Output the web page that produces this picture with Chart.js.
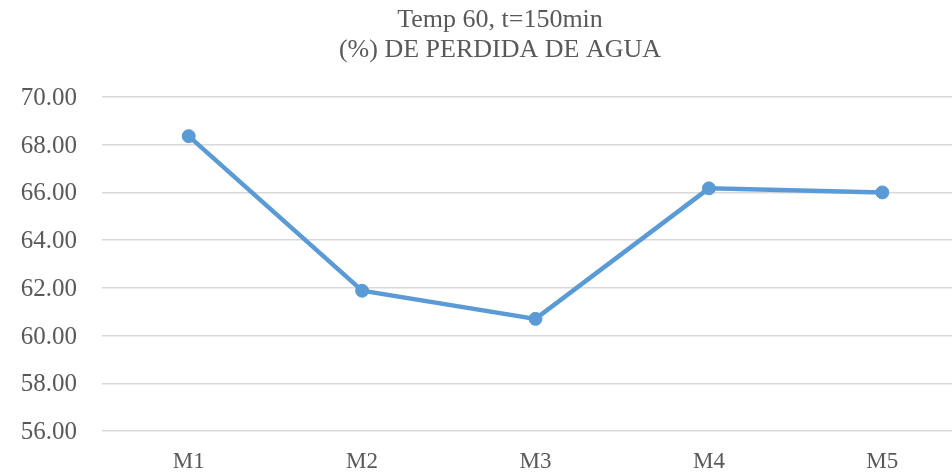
<!DOCTYPE html>
<html>
<head>
<meta charset="utf-8">
<script src="https://cdn.jsdelivr.net/npm/chart.js@4.4.1/dist/chart.umd.min.js"></script>
<style>
html,body{margin:0;padding:0;background:#fff;overflow:hidden;width:952px;height:476px;}
#wrap{position:relative;width:980px;height:476px;}
</style>
</head>
<body>
<div id="wrap"><canvas id="c"></canvas></div>
<script>
const categories = ["M1", "M2", "M3", "M4", "M5"];
const perdidaAgua = [68.36, 61.88, 60.70, 66.17, 66.00];
const titleLines = ["Temp 60, t=150min", "(%) DE PERDIDA DE AGUA"];
const yMin = 56, yMax = 70, yStep = 2;

const FONT = '"Liberation Serif", "Times New Roman", serif';
const TEXT = '#595959';

// Title drawn as canvas text, centred where the original chart centres it
const titlePlugin = {
  id: 'offsetTitle',
  afterDraw(chart) {
    const ctx = chart.ctx;
    ctx.save();
    ctx.font = '26px ' + FONT;
    ctx.fillStyle = TEXT;
    ctx.textAlign = 'center';
    ctx.textBaseline = 'alphabetic';
    const cx = 500;
    titleLines.forEach((t, i) => ctx.fillText(t, cx, 27 + i * 29.5));
    ctx.restore();
  }
};

new Chart(document.getElementById('c'), {
  type: 'line',
  data: {
    labels: categories,
    datasets: [{
      data: perdidaAgua,
      borderColor: '#5B9BD5',
      backgroundColor: '#5B9BD5',
      borderWidth: 4.5,
      pointRadius: 6.5,
      pointHoverRadius: 6.5,
      pointBorderWidth: 1,
      pointBackgroundColor: '#5B9BD5',
      pointBorderColor: '#5B9BD5',
      tension: 0
    }]
  },
  plugins: [titlePlugin],
  options: {
    responsive: true,
    maintainAspectRatio: false,
    animation: false,
    layout: { padding: { left: 0, right: 11, top: 97, bottom: 0 } },
    plugins: {
      legend: { display: false },
      tooltip: { enabled: false },
      title: { display: false }
    },
    scales: {
      x: {
        offset: true,
        grid: { display: false, drawTicks: false },
        border: { display: false },
        ticks: { color: TEXT, font: { family: FONT, size: 23 }, padding: 17, maxRotation: 0 },
        afterFit: (s) => { s.height = 45; }
      },
      y: {
        min: yMin, max: yMax,
        grid: { color: '#d9d9d9', lineWidth: 1.5, drawTicks: false },
        border: { display: false },
        ticks: {
          stepSize: yStep,
          color: TEXT,
          font: { family: FONT, size: 25 },
          padding: 25,
          labelOffset: 1.5,
          callback: (v) => Number(v).toFixed(2)
        },
        afterFit: (s) => { s.width = 102; }
      }
    }
  }
});
</script>
</body>
</html>
